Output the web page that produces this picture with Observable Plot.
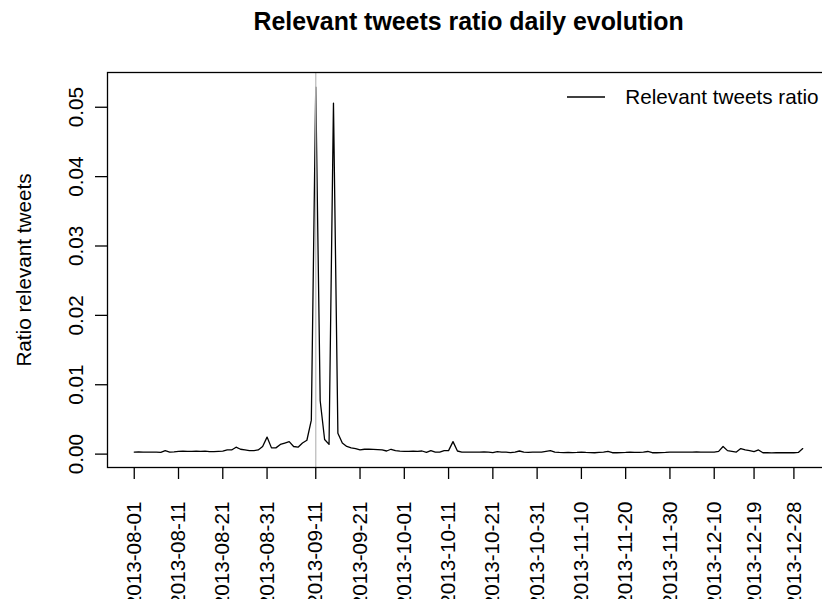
<!DOCTYPE html>
<html>
<head>
<meta charset="utf-8">
<script src="https://cdn.jsdelivr.net/npm/d3@7"></script>
<script src="https://cdn.jsdelivr.net/npm/@observablehq/plot@0.6"></script>
<style>
  html, body { margin: 0; padding: 0; background: #fff; overflow: hidden; width: 822px; height: 599px; }
  #chart svg { max-width: none !important; }
</style>
</head>
<body>
<div id="chart"></div>
<script>
// ---- data ----
const titleText = "Relevant tweets ratio daily evolution";
const yLabel = "Ratio relevant tweets";
const legendLabel = "Relevant tweets ratio";
const startDate = "2013-08-01";
const endDate = "2013-12-30";
// daily ratio values, 2013-08-01 .. 2013-12-30
const ratios = [
  0.0003, 0.00032, 0.0003, 0.0003, 0.00028, 0.0003, 0.00025, 0.0005, 0.0003, 0.00032,
  0.0004, 0.00042, 0.0004, 0.0004, 0.00043, 0.0004, 0.00042, 0.00035, 0.00035, 0.0004,
  0.00042, 0.0006, 0.0006, 0.001, 0.0007, 0.0006, 0.0005, 0.0005, 0.0006, 0.0011,
  0.00245, 0.0009, 0.0009, 0.0014, 0.0016, 0.0018, 0.0011, 0.001, 0.0016, 0.002,
  0.0049, 0.0529, 0.0077, 0.0021, 0.0014, 0.0506, 0.003, 0.0016, 0.0011, 0.0009,
  0.0008, 0.0006, 0.0007, 0.0007, 0.00068, 0.00065, 0.0006, 0.00045, 0.0007, 0.0005,
  0.00042, 0.0004, 0.0004, 0.00042, 0.0004, 0.00045, 0.00025, 0.0005, 0.0003, 0.0003,
  0.0005, 0.0005, 0.0018, 0.00045, 0.0003, 0.0003, 0.00028, 0.0003, 0.00028, 0.00032,
  0.0003, 0.00022, 0.00035, 0.0003, 0.00028, 0.00022, 0.0003, 0.00045, 0.0003, 0.00025,
  0.0003, 0.00028, 0.0003, 0.0004, 0.0005, 0.0003, 0.00025, 0.00022, 0.00025, 0.00022,
  0.00025, 0.0003, 0.00025, 0.00022, 0.0002, 0.00025, 0.0003, 0.0004, 0.0002, 0.0002,
  0.00022, 0.00025, 0.0003, 0.00025, 0.00025, 0.0003, 0.00038, 0.0002, 0.0002, 0.00022,
  0.00025, 0.0003, 0.00028, 0.0003, 0.0003, 0.00028, 0.0003, 0.00032, 0.0003, 0.0003,
  0.0003, 0.0003, 0.0004, 0.0011, 0.0005, 0.0004, 0.0003, 0.0008, 0.0006, 0.0005,
  0.00035, 0.0006, 0.0002, 0.0002, 0.00018, 0.0002, 0.0002, 0.00022, 0.0002, 0.0002,
  0.00025, 0.0008
];
const markerDate = "2013-09-11";
const xTickLabels = [
  "2013-08-01", "2013-08-11", "2013-08-21", "2013-08-31", "2013-09-11", "2013-09-21",
  "2013-10-01", "2013-10-11", "2013-10-21", "2013-10-31", "2013-11-10", "2013-11-20",
  "2013-11-30", "2013-12-10", "2013-12-19", "2013-12-28"
];
const yTicks = [0, 0.01, 0.02, 0.03, 0.04, 0.05];

// ---- build table ----
const parse = d3.utcParse("%Y-%m-%d");
const days = d3.utcDays(parse(startDate), d3.utcDay.offset(parse(endDate), 1));
const data = ratios.map((v, i) => ({date: days[i], value: v}));

// R-style 4% axis extension
function extend([a, b]) { const r = b - a; return [a - 0.04 * r, b + 0.04 * r]; }
const xd = extend(d3.extent(data, d => +d.date)).map(t => new Date(t));
const yd = extend(d3.extent(data, d => d.value));

const font = "'Liberation Sans', Arial, Helvetica, sans-serif";
const W = 840, H = 599, ML = 107, MR = 11, MT = 72, MB = 132;

const chart = Plot.plot({
  width: W,
  height: H,
  marginLeft: ML,
  marginRight: MR,
  marginTop: MT,
  marginBottom: MB,
  style: {fontFamily: font, fontSize: "20.7px", color: "black", background: "white", maxWidth: "none"},
  x: {type: "utc", domain: xd},
  y: {domain: yd},
  marks: [
    Plot.line(data, {x: "date", y: "value", stroke: "black", strokeWidth: 1.3}),
    Plot.ruleX([parse(markerDate)], {stroke: "#bebebe", strokeWidth: 1.3}),
    Plot.frame({stroke: "black", strokeWidth: 1.3}),
    Plot.axisX({
      ticks: xTickLabels.map(parse),
      tickFormat: d3.utcFormat("%Y-%m-%d"),
      tickRotate: -90,
      tickSize: 12,
      tickPadding: 22,
      strokeWidth: 1.3,
      label: null
    }),
    Plot.axisY({
      ticks: yTicks,
      tickFormat: d3.format(".2f"),
      tickRotate: -90,
      tickSize: 12,
      tickPadding: 13,
      strokeWidth: 1.3,
      label: null
    }),
    Plot.text([yLabel], {frameAnchor: "left", dx: -83, rotate: -90, textAnchor: "middle", lineAnchor: "middle", fontSize: 20.7}),
    Plot.text([titleText], {frameAnchor: "top", dy: -50, lineAnchor: "middle", fontWeight: "bold", fontSize: 24.9}),
    Plot.text([legendLabel], {frameAnchor: "top-right", dx: -11, dy: 25, textAnchor: "end", lineAnchor: "middle", fontSize: 20.7})
  ]
});
chart.setAttribute("width", W);
chart.setAttribute("height", H);
chart.style.width = W + "px";
chart.style.height = H + "px";

// legend sample line
d3.select(chart).append("line")
  .attr("x1", 567).attr("x2", 605)
  .attr("y1", MT + 25).attr("y2", MT + 25)
  .attr("stroke", "black").attr("stroke-width", 1.3);

document.getElementById("chart").appendChild(chart);
</script>
</body>
</html>
